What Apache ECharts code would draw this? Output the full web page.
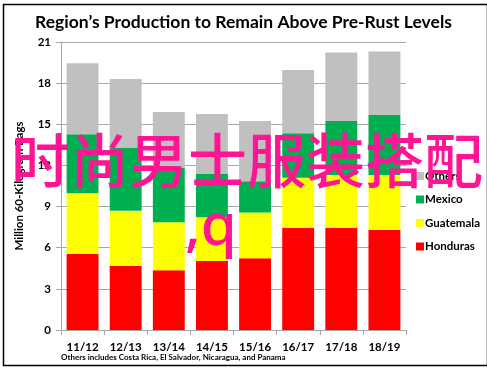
<!DOCTYPE html>
<html><head><meta charset="utf-8">
<script src="https://cdn.jsdelivr.net/npm/echarts@6/dist/echarts.min.js"></script>
<style>html,body{margin:0;padding:0;background:#fff}#c{width:487px;height:369px}</style>
</head><body><div id="c"></div>
<script>
var categories = ['11/12','12/13','13/14','14/15','15/16','16/17','17/18','18/19'];
var honduras = [5.54, 4.67, 4.35, 5.03, 5.23, 7.44, 7.44, 7.29];
var guatemala = [4.43, 4.03, 3.50, 3.19, 3.33, 3.66, 3.86, 4.01];
var mexico = [4.30, 4.60, 3.99, 3.16, 2.29, 3.25, 3.94, 4.38];
var others = [5.18, 5.00, 4.06, 4.37, 4.39, 4.61, 4.99, 4.62];
var yTicks = [0, 3, 6, 9, 12, 15, 18, 21];

var chart = echarts.init(document.getElementById('c'));
var F = 'Lato, "Liberation Sans", sans-serif';
function bar(name, data, color) {
  return { name: name, type: 'bar', stack: 'p', data: data, barWidth: '74%',
    itemStyle: { color: color }, emphasis: { disabled: true } };
}
chart.setOption({
  animation: false,
  title: { text: 'Region\u2019s Production to Remain Above Pre-Rust Levels', left: 'center', top: 8,
    textStyle: { fontFamily: F, fontWeight: 'bold', fontSize: 17.5, color: '#000' } },
  grid: { left: 61, right: 81, top: 42, bottom: 39 },
  legend: { orient: 'vertical', left: 411, top: 165, itemWidth: 8, itemHeight: 8, itemGap: 11.5,
    icon: 'rect', data: ['Others', 'Mexico', 'Guatemala', 'Honduras'],
    textStyle: { fontFamily: F, fontWeight: 'bold', fontSize: 11.5, color: '#000', padding: [0, 0, 0, -4] } },
  xAxis: { type: 'category', data: categories,
    axisLine: { lineStyle: { color: '#a6a6a6' } },
    axisTick: { show: true, length: 5, lineStyle: { color: '#a6a6a6' } },
    axisLabel: { fontFamily: F, fontWeight: 'bold', fontSize: 11.5, color: '#000', margin: 11 } },
  yAxis: { type: 'value', min: yTicks[0], max: yTicks[yTicks.length - 1], interval: 3,
    name: 'Million 60-Kilogram Bags', nameLocation: 'middle', nameGap: 36,
    nameTextStyle: { fontFamily: F, fontWeight: 'bold', fontSize: 11.5, color: '#000' },
    axisLine: { show: true, lineStyle: { color: '#a6a6a6' } },
    axisTick: { show: true, length: 5, lineStyle: { color: '#a6a6a6' } },
    splitLine: { lineStyle: { color: '#a6a6a6' } },
    axisLabel: { fontFamily: F, fontWeight: 'bold', fontSize: 11.5, color: '#000', margin: 10 } },
  series: [
    bar('Honduras', honduras, '#ff0000'),
    bar('Guatemala', guatemala, '#ffff00'),
    bar('Mexico', mexico, '#00b050'),
    bar('Others', others, '#c0c0c0')
  ],
  graphic: [
    { type: 'rect', left: 1, top: 2, z: 0, silent: true,
      shape: { width: 484, height: 361 }, style: { fill: 'none', stroke: '#000', lineWidth: 1.5 } },
    { type: 'text', left: 61, top: 353, silent: true,
      style: { text: 'Others includes Costa Rica, El Salvador, Nicaragua, and Panama', fontFamily: F,
        fontSize: 8, fontWeight: 'bold', fill: '#000' } },
    { type: 'text', x: 247, y: 161, z: 100, silent: true,
      style: { text: '时尚男士服装搭配', fontFamily: '"Noto Sans CJK SC"', fontSize: 59, fontWeight: 500,
        fill: '#ff1493', align: 'center', verticalAlign: 'middle' } },
    { type: 'text', x: 185, y: 228, z: 100, silent: true,
      style: { text: ',q', fontFamily: '"Noto Sans"', fontSize: 58, fontWeight: 500,
        fill: '#ff1493', align: 'left', verticalAlign: 'middle' } }
  ]
});
</script></body></html>
